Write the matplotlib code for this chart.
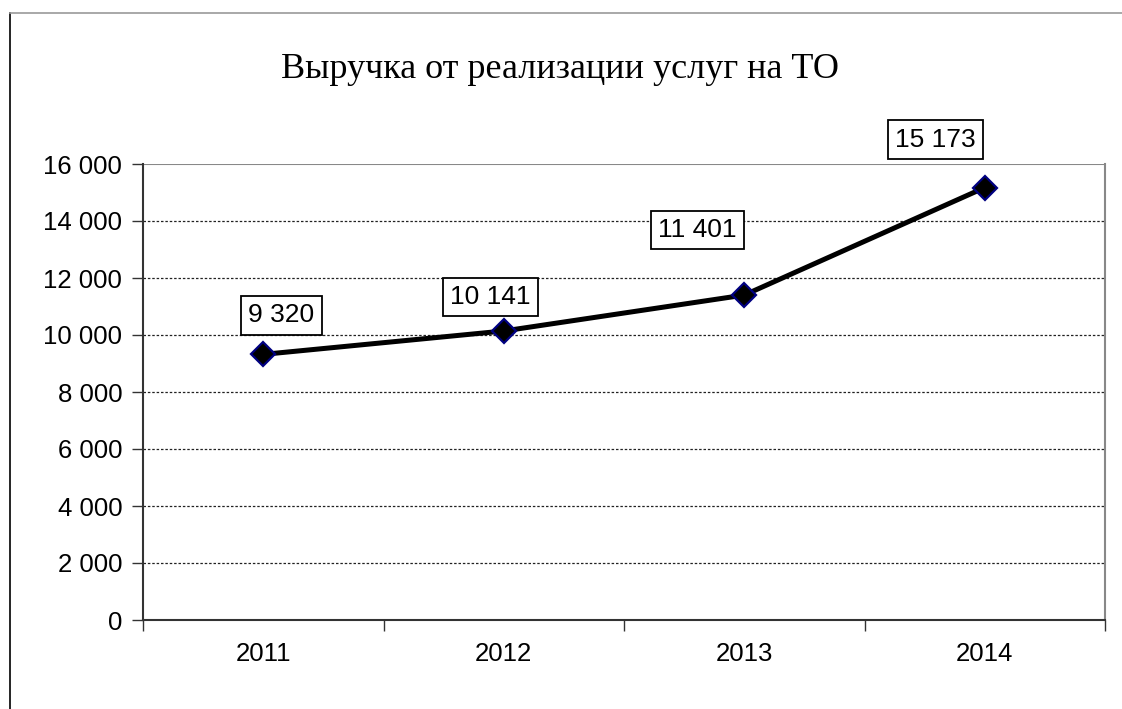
import matplotlib
matplotlib.use('Agg')
import matplotlib.pyplot as plt
from matplotlib.lines import Line2D
from matplotlib.ticker import FuncFormatter, FixedLocator

# выручка по годам
years = ['2011', '2012', '2013', '2014']
revenue = [9320, 10141, 11401, 15173]
# смещения подписей относительно точек (в пикселях)
label_dx = [18, -13, -47, -49]
label_dy = [39, 34, 65, 48]

fig = plt.figure(figsize=(11.22, 7.09), dpi=100)
W, H = 1122, 709
ax = fig.add_axes([143 / W, 1 - 620 / H, (1105 - 143) / W, (620 - 164) / H])

x = list(range(len(years)))
ax.plot(x, revenue, color='black', lw=3.6, marker='D', ms=12,
        mfc='black', mec='#000080', mew=1.6, zorder=5, clip_on=False)

ax.set_xlim(-0.5, len(years) - 0.5)
ax.set_ylim(0, 16000)
ax.yaxis.set_major_locator(FixedLocator(range(0, 16001, 2000)))
ax.yaxis.set_major_formatter(FuncFormatter(lambda v, p: f'{int(v):,}'.replace(',', ' ')))
ax.set_xticks(x)
ax.set_xticklabels(years)
ax.xaxis.set_minor_locator(FixedLocator([i - 0.5 for i in range(len(years) + 1)]))
ax.tick_params(axis='x', which='major', length=0, pad=16)
ax.tick_params(axis='x', which='minor', length=8, width=1, color='#333333', direction='out')
ax.tick_params(axis='y', length=8, width=1, color='#333333', direction='out', pad=7)
for lab in ax.get_xticklabels() + ax.get_yticklabels():
    lab.set_fontfamily('Liberation Sans')
    lab.set_fontsize(18.5)

for v in range(2000, 16000, 2000):
    ax.axhline(v, color='#222222', lw=0.9, ls=(0, (2, 1.5)), zorder=1)
ax.axhline(16000, color='#888888', lw=1.5, zorder=1)

ax.spines['left'].set_color('#333333')
ax.spines['left'].set_linewidth(1.5)
ax.spines['bottom'].set_color('#333333')
ax.spines['bottom'].set_linewidth(1.5)
ax.spines['right'].set_color('#888888')
ax.spines['right'].set_linewidth(1.5)
ax.spines['top'].set_visible(False)

for xi, v, dx, dy in zip(x, revenue, label_dx, label_dy):
    ax.annotate(f'{v:,}'.replace(',', ' '), (xi, v), xytext=(dx * 0.72, dy * 0.72),
                textcoords='offset points', ha='center', va='center',
                fontsize=19, fontfamily='Liberation Sans', zorder=6,
                bbox=dict(boxstyle='square,pad=0.28', fc='white', ec='black', lw=1.3))

fig.text(560 / W, 1 - 70 / H, 'Выручка от реализации услуг на ТО', ha='center', va='center',
         fontsize=26, fontfamily='Liberation Serif')

# рамка области диаграммы
fig.add_artist(Line2D([10 / W, 10 / W], [0, 1 - 13 / H], color='black', lw=1.2))
fig.add_artist(Line2D([10 / W, 1], [1 - 13 / H, 1 - 13 / H], color='#999999', lw=1.2))

fig.savefig('out.png', dpi=100)
